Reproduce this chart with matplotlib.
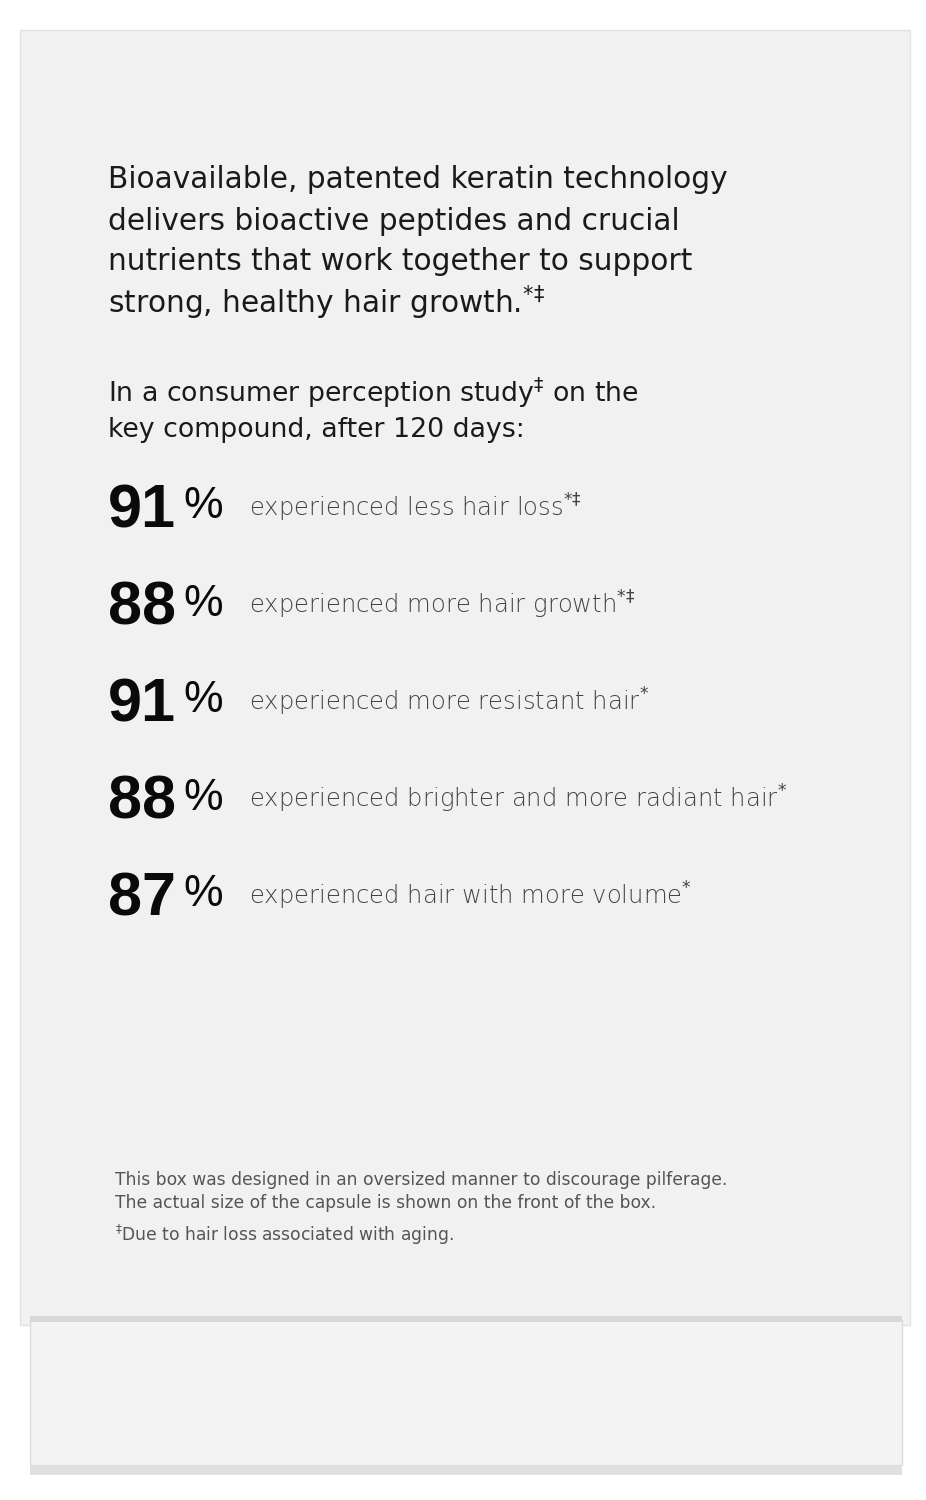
import matplotlib
matplotlib.use("Agg")
import matplotlib.pyplot as plt
from matplotlib.patches import Rectangle

intro_lines = ["Bioavailable, patented keratin technology",
               "delivers bioactive peptides and crucial",
               "nutrients that work together to support",
               "strong, healthy hair growth.$^{*‡}$"]
study_lines = ["In a consumer perception study$^{‡}$ on the",
               "key compound, after 120 days:"]
percents = [91, 88, 91, 88, 87]
claims = ["experienced less hair loss$^{*‡}$",
          "experienced more hair growth$^{*‡}$",
          "experienced more resistant hair$^{*}$",
          "experienced brighter and more radiant hair$^{*}$",
          "experienced hair with more volume$^{*}$"]
footnotes = ["This box was designed in an oversized manner to discourage pilferage.",
             "The actual size of the capsule is shown on the front of the box.",
             "$^{‡}$Due to hair loss associated with aging."]

fig = plt.figure(figsize=(9.26, 15), dpi=100)
fig.patch.set_facecolor("white")
ax = fig.add_axes([0, 0, 1, 1])
ax.set_xlim(0, 926); ax.set_ylim(1500, 0); ax.axis("off")

ax.add_patch(Rectangle((20, 30), 890, 1295, facecolor="#f1f1f1", edgecolor="#e2e2e2", lw=1))
ax.add_patch(Rectangle((30, 1320), 872, 145, facecolor="#f3f3f3", edgecolor="#dcdcdc", lw=1))
ax.add_patch(Rectangle((30, 1316), 872, 6, facecolor="#d8d8d8", edgecolor="none"))
ax.add_patch(Rectangle((30, 1465), 872, 10, facecolor="#e0e0e0", edgecolor="none"))

fam = "DejaVu Sans"
for i, t in enumerate(intro_lines):
    ax.text(108, 180 + i * 41, t, fontsize=21.3, family=fam, color="#1a1a1a", va="center")
for i, t in enumerate(study_lines):
    ax.text(108, 393 + i * 37, t, fontsize=19.3, family=fam, color="#1a1a1a", va="center")
for i, (p, c) in enumerate(zip(percents, claims)):
    y = 512 + i * 97
    ax.text(108, y, f"{p}", fontsize=44, family="Liberation Sans", weight="bold",
            color="#0a0a0a", va="center")
    ax.text(183, y - 5, "%", fontsize=32, family="Liberation Sans", color="#0a0a0a", va="center")
    ax.text(249, y - 4, c, fontsize=17.5, family=fam, weight="light", color="#444444", va="center")
for i, t in enumerate(footnotes):
    ax.text(115, 1180 + i * 23 + (9 if i == 2 else 0), t, fontsize=12.3, family=fam,
            color="#555555", va="center")

fig.savefig("out.png", dpi=100)
